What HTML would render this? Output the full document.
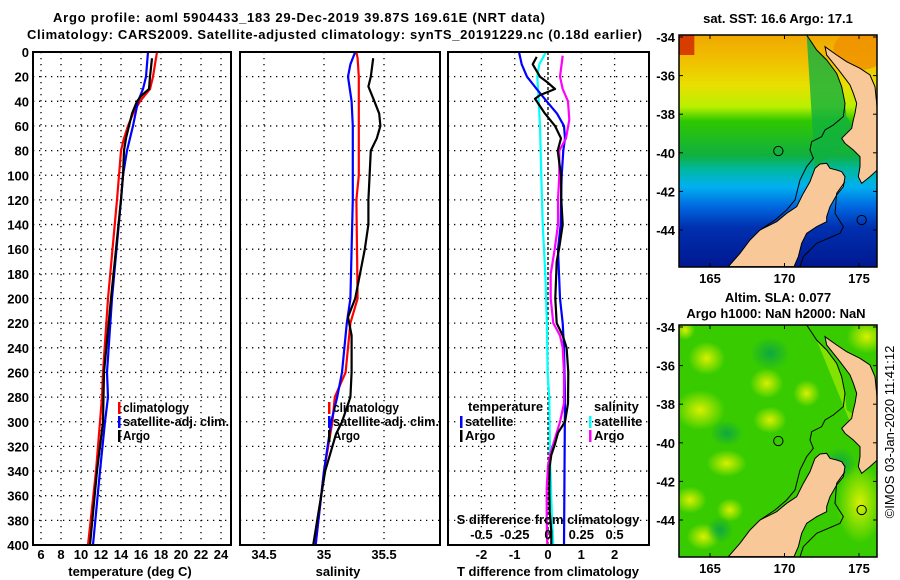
<!DOCTYPE html>
<html><head><meta charset="utf-8"><style>
html,body{margin:0;padding:0;background:#fff}
svg{display:block;font-family:"Liberation Sans",sans-serif;font-weight:bold;font-size:13px}
</style></head><body>
<svg id="c" width="900" height="580" viewBox="0 0 900 580" xmlns="http://www.w3.org/2000/svg">
<defs>
<linearGradient id="sstg" x1="0" y1="0" x2="0" y2="1">
<stop offset="0" stop-color="#f0a800"/><stop offset="0.11" stop-color="#f0c000"/><stop offset="0.22" stop-color="#e8e000"/>
<stop offset="0.31" stop-color="#b8f000"/><stop offset="0.37" stop-color="#30c800"/><stop offset="0.52" stop-color="#10b040"/>
<stop offset="0.58" stop-color="#00b8a0"/><stop offset="0.655" stop-color="#00b0f0"/><stop offset="0.74" stop-color="#0068e0"/>
<stop offset="0.83" stop-color="#0030b0"/><stop offset="1" stop-color="#001890"/></linearGradient>
<radialGradient id="yb"><stop offset="0" stop-color="#d8f000"/><stop offset="1" stop-color="#d8f000" stop-opacity="0"/></radialGradient>
<radialGradient id="db"><stop offset="0" stop-color="#10a840"/><stop offset="1" stop-color="#10a840" stop-opacity="0"/></radialGradient>
<clipPath id="cm"><rect x="58" y="105" width="594" height="695"/></clipPath>
</defs>
<g font-size="13">
<text x="53" y="22" textLength="492">Argo profile: aoml 5904433_183 29-Dec-2019 39.87S 169.61E (NRT data)</text>
<text x="27" y="39" textLength="615">Climatology: CARS2009. Satellite-adjusted climatology: synTS_20191229.nc (0.18d earlier)</text>
</g>
<g id="p1"></g>
<g id="p2"></g>
<g id="p3"></g>

<g>
<text x="778" y="23" text-anchor="middle">sat. SST: 16.6 Argo: 17.1</text>
<g transform="translate(660,0) scale(0.33333)" clip-path="url(#cm)">
<rect x="58" y="105" width="594" height="695" fill="url(#sstg)"/>
<rect x="58" y="105" width="45" height="60" fill="#d02000" opacity="0.8"/>
<ellipse cx="600" cy="150" rx="80" ry="60" fill="#f09000" opacity="0.8"/>
<polygon points="440,105 470,150 500,180 530,220 545,260 555,310 560,350 580,380 560,420 545,440 510,470 480,490 465,505" fill="#10b040" opacity="0.8"/>
<g fill="#f8c898" stroke="#000" stroke-width="3">
<polygon points="205,800 240,760 270,720 300,690 350,665 380,640 410,620 430,580 450,545 465,505 480,492 500,490 510,505 530,510 545,515 555,530 550,560 530,585 510,620 500,650 500,665 470,680 440,700 425,730 415,770 402,800"/>
<polygon points="495,140 530,165 560,185 600,205 630,225 645,260 652,330 652,510 630,530 605,550 595,530 600,500 600,470 580,450 555,430 545,415 560,400 575,385 580,360 585,340 590,310 580,280 570,255 555,235 540,215 520,190 500,165"/>
</g>
<polyline points="440,105 470,150 500,180 530,220 545,260 555,310 550,350 520,375 495,390 485,410 455,425 450,450 460,475 440,500 420,540 405,600 380,630 345,660 300,690" fill="none" stroke="#000" stroke-width="3"/>
<polyline points="555,545 530,580 525,640 550,680 540,700 470,730 430,770 420,800" fill="none" stroke="#000" stroke-width="3"/>
<circle cx="355" cy="453" r="14" fill="none" stroke="#000" stroke-width="3"/>
<circle cx="605" cy="660" r="14" fill="none" stroke="#000" stroke-width="3"/>
</g>
<rect x="679" y="35" width="198" height="232" fill="none" stroke="#000" stroke-width="1.5"/>
</g>

<g>
<text x="778" y="302" text-anchor="middle">Altim. SLA: 0.077</text>
<text x="776" y="318" text-anchor="middle">Argo h1000: NaN h2000: NaN</text>
<g transform="translate(660,290) scale(0.33333)" clip-path="url(#cm)">
<rect x="58" y="105" width="594" height="695" fill="#38cc00"/>
<ellipse cx="140" cy="205" rx="55" ry="50" fill="url(#yb)"/>
<ellipse cx="120" cy="360" rx="75" ry="60" fill="url(#yb)"/>
<ellipse cx="320" cy="280" rx="50" ry="45" fill="url(#yb)"/>
<ellipse cx="440" cy="310" rx="40" ry="40" fill="url(#yb)"/>
<ellipse cx="620" cy="140" rx="60" ry="50" fill="url(#yb)"/>
<ellipse cx="75" cy="120" rx="30" ry="30" fill="url(#yb)"/>
<ellipse cx="200" cy="520" rx="60" ry="40" fill="url(#yb)"/>
<ellipse cx="90" cy="630" rx="50" ry="40" fill="url(#yb)"/>
<ellipse cx="210" cy="660" rx="40" ry="35" fill="url(#yb)"/>
<ellipse cx="330" cy="390" rx="50" ry="40" fill="url(#yb)"/>
<ellipse cx="600" cy="640" rx="70" ry="120" fill="url(#yb)"/>
<ellipse cx="130" cy="740" rx="50" ry="40" fill="url(#yb)"/>
<ellipse cx="330" cy="190" rx="60" ry="50" fill="url(#db)"/>
<ellipse cx="200" cy="430" rx="50" ry="40" fill="url(#db)"/>
<ellipse cx="180" cy="720" rx="40" ry="40" fill="url(#db)"/>
<ellipse cx="540" cy="520" rx="50" ry="50" fill="url(#db)"/>
<polygon points="470,150 500,180 530,220 545,260 555,310 560,360 590,380 580,420" fill="#b8f000" opacity="0.6"/>
<g fill="#f8c898" stroke="#000" stroke-width="3">
<polygon points="205,800 240,760 270,720 300,690 350,665 380,640 410,620 430,580 450,545 465,505 480,492 500,490 510,505 530,510 545,515 555,530 550,560 530,585 510,620 500,650 500,665 470,680 440,700 425,730 415,770 402,800"/>
<polygon points="495,140 530,165 560,185 600,205 630,225 645,260 652,330 652,510 630,530 605,550 595,530 600,500 600,470 580,450 555,430 545,415 560,400 575,385 580,360 585,340 590,310 580,280 570,255 555,235 540,215 520,190 500,165"/>
</g>
<polyline points="440,105 470,150 500,180 530,220 545,260 555,310 550,350 520,375 495,390 485,410 455,425 450,450 460,475 440,500 420,540 405,600 380,630 345,660 300,690" fill="none" stroke="#000" stroke-width="3"/>
<polyline points="555,545 530,580 525,640 550,680 540,700 470,730 430,770 420,800" fill="none" stroke="#000" stroke-width="3"/>
<circle cx="355" cy="453" r="14" fill="none" stroke="#000" stroke-width="3"/>
<circle cx="605" cy="660" r="14" fill="none" stroke="#000" stroke-width="3"/>
</g>
<rect x="679" y="325" width="198" height="232" fill="none" stroke="#000" stroke-width="1.5"/>
</g>
<g id="maxes"></g>
<text transform="translate(894,432) rotate(-90)" text-anchor="middle" font-weight="normal" font-size="13">©IMOS 03-Jan-2020 11:41:12</text>
</svg>
<script>
// ---- data ----
const depthTicks = [0,20,40,60,80,100,120,140,160,180,200,220,240,260,280,300,320,340,360,380,400];
const tempTicks = [6,8,10,12,14,16,18,20,22,24];
const salTicks = [34.5,35,35.5];
const tdiffTicks = [-2,-1,0,1,2];
const sdiffTicks = [-0.5,-0.25,0,0.25,0.5];
const sdiffTickLabels = ["-0.5","-0.25","0","0.25","0.5"];

const tClimDepth = [0,20,30,40,50,60,70,80,100,120,200,260,280,300,340,400];
const tClim = [17.6,17.2,16.9,15.9,15.2,14.7,14.3,14.0,13.8,13.6,12.7,12.2,12.1,11.9,11.5,10.7];
const tSatDepth = [0,20,30,40,60,80,100,120,200,260,280,300,340,400];
const tSat = [16.7,16.5,16.2,15.7,15.2,14.6,14.2,14.0,13.1,12.6,12.7,12.4,11.9,11.2];
const tArgoDepth = [5,20,30,35,40,50,60,70,80,100,120,200,260,300,340,400];
const tArgo = [17.1,16.9,16.8,16.1,15.6,15.1,14.8,14.5,14.3,14.2,14.0,13.0,12.3,12.2,11.6,10.9];

const sClimDepth = [0,5,20,60,100,120,200,220,260,280,300,340,400];
const sClim = [35.27,35.28,35.29,35.29,35.29,35.27,35.28,35.22,35.18,35.09,35.07,35.0,34.93];
const sSatDepth = [0,10,20,40,60,120,200,220,260,280,300,340,400];
const sSat = [35.26,35.22,35.2,35.23,35.24,35.24,35.22,35.19,35.15,35.11,35.06,35.0,34.93];
const sArgoDepth = [5,20,28,40,50,60,70,80,100,120,140,160,180,200,215,230,260,280,300,310,340,400];
const sArgo = [35.41,35.39,35.37,35.42,35.46,35.47,35.44,35.39,35.38,35.37,35.37,35.34,35.3,35.26,35.2,35.23,35.23,35.22,35.15,35.1,35.01,34.91];

const dTSatDepth = [0,10,20,30,40,50,60,70,80,100,120,140,160,180,200,220,240,280,400];
const dTSat = [-0.87,-0.79,-0.63,-0.34,-0.04,0.27,0.48,0.51,0.46,0.41,0.39,0.38,0.3,0.33,0.36,0.44,0.48,0.51,0.48];
const dTArgoDepth = [4,10,20,25,30,35,38,40,50,60,70,80,100,120,140,160,170,200,220,230,240,260,285,300,309,318,327,336,354,373,389,400];
const dTArgo = [-0.34,-0.46,-0.24,0,0.21,-0.24,-0.39,-0.34,-0.09,0.21,0.39,0.29,0.39,0.4,0.44,0.33,0.26,0.22,0.26,0.44,0.56,0.61,0.6,0.51,0.3,0.21,0.1,0.05,0.04,0.05,0.1,0.1];
const dSSatDepth = [0,10,20,40,60,100,140,180,220,260,280,330,380,400];
const dSSat = [-0.015,-0.065,-0.08,-0.07,-0.06,-0.05,-0.04,-0.02,-0.008,-0.003,0.01,0.015,0.03,0.04];
const dSArgoDepth = [3,20,30,40,55,70,80,100,120,140,160,180,200,220,230,240,260,285,300,309,318,327,336,354,380,400];
const dSArgo = [0.11,0.09,0.11,0.15,0.16,0.135,0.085,0.085,0.075,0.075,0.05,0.02,0.02,0.04,0.09,0.11,0.12,0.12,0.09,0.065,0.04,0.015,0,-0.01,-0.01,-0.005];

const mapLatTicks = [-34,-36,-38,-40,-42,-44];
const mapLonTicks = [165,170,175];

// ---- helpers ----
const NS='http://www.w3.org/2000/svg';
function el(parent,tag,attrs,txt){const e=document.createElementNS(NS,tag);for(const k in attrs)e.setAttribute(k,attrs[k]);if(txt!==undefined)e.textContent=txt;parent.appendChild(e);return e;}
const yD = d => 52 + d*1.2325;
const TOP=52, BOT=545;

function panel(g,x0,x1,xs,ticks,labels,labelY,zeroDash){
  ticks.forEach(v=>{const x=xs(v);
    const l=el(g,'line',{x1:x,x2:x,y1:TOP,y2:BOT,stroke:'#000','stroke-width':1.3,'stroke-dasharray':(v===0&&zeroDash)?'3,2':'1.3,4.7'});
    
    
  });
  depthTicks.slice(1,-1).forEach(d=>{
    const l=el(g,'line',{x1:x0,x2:x1,y1:yD(d),y2:yD(d),stroke:'#000','stroke-width':1.3,'stroke-dasharray':'1.3,4.7'});
    
    
  });
  ticks.forEach((v,i)=>{
    const t=el(g,'text',{x:xs(v),y:labelY,'text-anchor':'middle'},labels[i]);
    
    
  });
}
function frame(g,x0,x1){
  const r=el(g,'rect',{x:x0,y:TOP,width:x1-x0,height:BOT-TOP,fill:'none',stroke:'#000','stroke-width':2});
  
  
}
function series(g,depths,vals,xs,color,name){
  const pts=depths.map((d,i)=>xs(vals[i]).toFixed(1)+','+yD(d).toFixed(1)).join(' ');
  const p=el(g,'polyline',{points:pts,fill:'none',stroke:color,'stroke-width':2.2,'stroke-linejoin':'round'});
  
  
}
function legend(g,x,y,color,label,w){
  const r=el(g,'rect',{x:x,y:y-10,width:2.5,height:12,fill:color});
  
  
  const a={x:x+5,y:y};
  if(w){a.textLength=w;a.lengthAdjust='spacingAndGlyphs';}
  const t=el(g,'text',a,label);
  
  
}

// ---- panel 1 ----
const x1 = t => 41 + (t-6)*10;
const p1=document.getElementById('p1');
panel(p1,33,231,x1,tempTicks,tempTicks.map(String),559,false);
depthTicks.forEach(d=>{const t=el(p1,'text',{x:29,y:yD(d)+5,'text-anchor':'end'},String(d));
  
  });
series(p1,tClimDepth,tClim,x1,'#ff0000','temp-climatology-line');
series(p1,tSatDepth,tSat,x1,'#0000ff','temp-satellite-line');
series(p1,tArgoDepth,tArgo,x1,'#000000','temp-argo-line');
frame(p1,33,231);
legend(p1,118,412,'#ff0000','climatology',66);
legend(p1,118,426,'#0000ff','satellite-adj. clim.',106);
legend(p1,118,440,'#000000','Argo',27);
{const t=el(p1,'text',{x:130,y:576,'text-anchor':'middle'},'temperature (deg C)');
}

// ---- panel 2 ----
const x2 = s => 264 + (s-34.5)*120;
const p2=document.getElementById('p2');
panel(p2,240,440,x2,salTicks,["34.5","35","35.5"],559,false);
series(p2,sClimDepth,sClim,x2,'#ff0000','sal-climatology-line');
series(p2,sSatDepth,sSat,x2,'#0000ff','sal-satellite-line');
series(p2,sArgoDepth,sArgo,x2,'#000000','sal-argo-line');
frame(p2,240,440);
legend(p2,328,412,'#ff0000','climatology',66);
legend(p2,328,426,'#0000ff','satellite-adj. clim.',106);
legend(p2,328,440,'#000000','Argo',27);
{const t=el(p2,'text',{x:338,y:576,'text-anchor':'middle'},'salinity');
}

// ---- panel 3 ----
const x3 = v => 548 + v*33.3;
const xs3 = v => 548 + v*133.2;
const p3=document.getElementById('p3');
panel(p3,448,649,x3,tdiffTicks,tdiffTicks.map(String),559,true);
series(p3,dSSatDepth,dSSat,xs3,'#00ffff','sdiff-satellite-line');
series(p3,dTSatDepth,dTSat,x3,'#0000ff','tdiff-satellite-line');
series(p3,dSArgoDepth,dSArgo,xs3,'#ff00ff','sdiff-argo-line');
series(p3,dTArgoDepth,dTArgo,x3,'#000000','tdiff-argo-line');
frame(p3,448,649);
{const t=el(p3,'text',{x:468,y:411},'temperature');}
legend(p3,460,426,'#0000ff','satellite');
legend(p3,460,440,'#000000','Argo');
{const t=el(p3,'text',{x:594,y:411},'salinity');}
legend(p3,589,426,'#00ffff','satellite');
legend(p3,589,440,'#ff00ff','Argo');
{const t=el(p3,'text',{x:548,y:524,'text-anchor':'middle'},'S difference from climatology');}
sdiffTicks.forEach((v,i)=>{const t=el(p3,'text',{x:xs3(v),y:539,'text-anchor':'middle'},sdiffTickLabels[i]);
  });
{const t=el(p3,'text',{x:548,y:576,'text-anchor':'middle'},'T difference from climatology');}

// ---- map axes ----
const ma=document.getElementById('maxes');
const lonX = lon => 710 + (lon-165)*14.9;
[[35,37,283],[325,327,573]].forEach(([fy,y34,ly])=>{
  mapLatTicks.forEach(lat=>{const y=y34+(-34-lat)*19.3;
    const t=el(ma,'text',{x:675,y:y+5,'text-anchor':'end'},String(lat));
    
    el(ma,'line',{x1:877,x2:873,y1:y,y2:y,stroke:'#000'});
    el(ma,'line',{x1:679,x2:683,y1:y,y2:y,stroke:'#000'});
  });
  mapLonTicks.forEach(lon=>{
    const t=el(ma,'text',{x:lonX(lon),y:ly,'text-anchor':'middle'},String(lon));
    
    el(ma,'line',{x1:lonX(lon),x2:lonX(lon),y1:fy,y2:fy+4,stroke:'#000'});
    el(ma,'line',{x1:lonX(lon),x2:lonX(lon),y1:fy+232,y2:fy+228,stroke:'#000'});
  });
});
</script>
</body></html>
